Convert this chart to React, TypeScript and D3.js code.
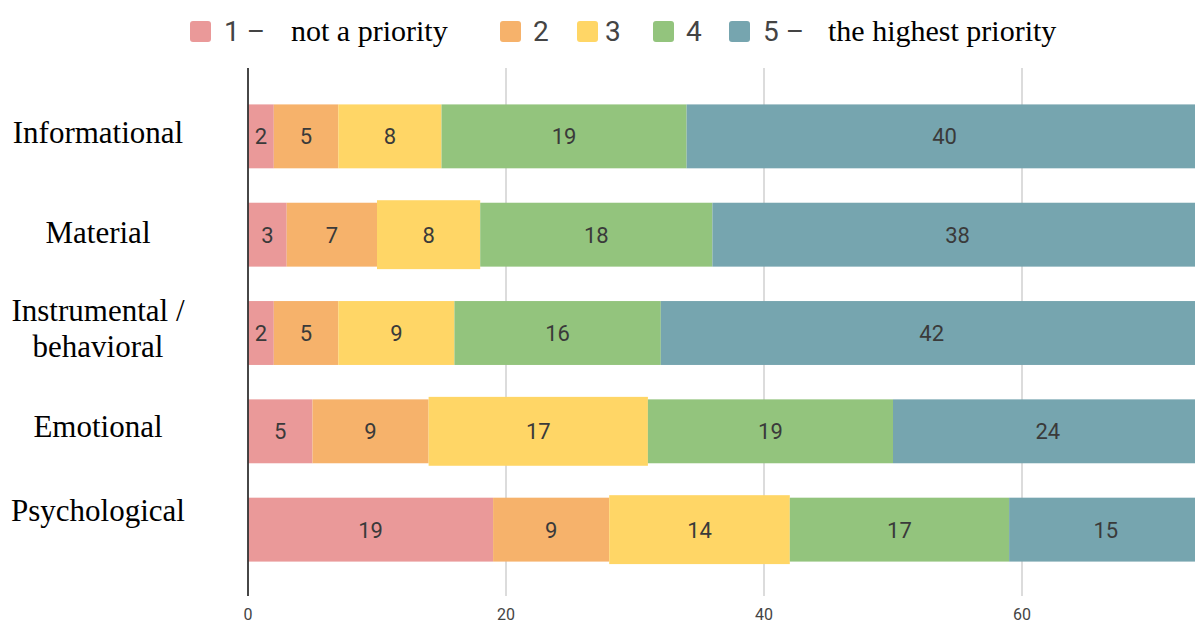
import React from "react";
import * as d3 from "d3";

const categories = ["Informational", "Material", "Instrumental / behavioral", "Emotional", "Psychological"];
const seriesKeys = ["1", "2", "3", "4", "5"];
const series1 = [2, 3, 2, 5, 19];
const series2 = [5, 7, 5, 9, 9];
const series3 = [8, 8, 9, 17, 14];
const series4 = [19, 18, 16, 19, 17];
const series5 = [40, 38, 42, 24, 15];
const xTicks = [0, 20, 40, 60];
const legendNumbers = ["1 –", "2", "3", "4", "5 –"];
const legendTexts = ["not a priority", "", "", "", "the highest priority"];

const colors = ["#EA9999", "#F6B26B", "#FFD666", "#93C47D", "#76A5AF"];

const W = 1195;
const H = 623;

export default function App() {
  const allSeries = [series1, series2, series3, series4, series5];
  const rows = categories.map((c, i) => {
    const r: any = { cat: c };
    seriesKeys.forEach((k, j) => (r[k] = allSeries[j][i]));
    return r;
  });
  const stacked = d3.stack().keys(seriesKeys)(rows);

  const x = d3.scaleLinear().domain([0, 74]).range([248, 248 + 74 * 12.9]);
  const y = d3.scaleBand().domain(categories).range([70, 596]).paddingInner(0.35).paddingOuter(0.35);
  const bw = y.bandwidth();

  // highlighted (slightly enlarged) yellow segments in the original
  const enlarged = new Set(["3|Material", "3|Emotional", "3|Psychological"]);

  const labelLines: string[][] = [["Informational"], ["Material"], ["Instrumental /", "behavioral"], ["Emotional"], ["Psychological"]];
  const labelDy: number[][] = [[6.5], [8.2], [-12.1, 23.9], [5.6], [-8.7]];

  const legendX = [
    { sq: 190, num: 224, txt: 291 },
    { sq: 500, num: 533, txt: 0 },
    { sq: 577, num: 605, txt: 0 },
    { sq: 653, num: 686, txt: 0 },
    { sq: 729, num: 763, txt: 828 },
  ];

  return (
    <svg width={W} height={H} style={{ position: "absolute", left: 0, top: 0, background: "#fff" }}>
      <rect width={W} height={H} fill="#fff" />
      {/* gridlines */}
      {xTicks.filter((t) => t !== 0).map((t) => (
        <line key={t} x1={x(t)} x2={x(t)} y1={68} y2={596} stroke="#d0d0d0" strokeWidth={1.5} />
      ))}
      {/* bars */}
      {stacked.map((s, si) => (
        <g key={s.key} fill={colors[si]}>
          {s.map((d, i) => {
            const cat = categories[i];
            const big = enlarged.has(s.key + "|" + cat);
            const ext = big ? 2.5 : 0;
            return (
              <rect
                key={cat}
                x={x(d[0])}
                y={(y(cat) as number) - ext}
                width={x(d[1]) - x(d[0])}
                height={bw + 2 * ext}
              />
            );
          })}
        </g>
      ))}
      {/* value labels */}
      {stacked.map((s) => (
        <g key={"l" + s.key}>
          {s.map((d, i) => {
            const cat = categories[i];
            const v = d[1] - d[0];
            return (
              <text
                key={cat}
                x={(x(d[0]) + x(d[1])) / 2}
                y={(y(cat) as number) + bw / 2}
                dy="0.36em"
                textAnchor="middle"
                fontFamily="Roboto, 'Open Sans', sans-serif"
                fontSize={22}
                fill="#3a3a3a"
              >
                {v}
              </text>
            );
          })}
        </g>
      ))}
      {/* axis line */}
      <line x1={x(0)} x2={x(0)} y1={68} y2={596} stroke="#333" strokeWidth={1.8} />
      {/* tick labels */}
      {xTicks.map((t) => (
        <text key={"t" + t} x={x(t)} y={620} textAnchor="middle" fontFamily="Roboto, sans-serif" fontSize={16} fill="#444">
          {t}
        </text>
      ))}
      {/* category labels */}
      {categories.map((c, i) => (
        <text key={"c" + c} x={98} textAnchor="middle" fontFamily="'Liberation Serif', 'Times New Roman', serif" fontSize={31} fill="#000">
          {labelLines[i].map((ln, k) => (
            <tspan key={k} x={98} y={(y(c) as number) + bw / 2 + labelDy[i][k]}>
              {ln}
            </tspan>
          ))}
        </text>
      ))}
      {/* legend */}
      {seriesKeys.map((k, i) => (
        <g key={"lg" + k}>
          <rect x={legendX[i].sq} y={21} width={21} height={21} rx={3} fill={colors[i]} />
          <text x={legendX[i].num} y={41} fontFamily="Roboto, sans-serif" fontSize={28} fill="#444">
            {legendNumbers[i]}
          </text>
          {legendTexts[i] && (
            <text x={legendX[i].txt} y={41} fontFamily="'Liberation Serif', 'Times New Roman', serif" fontSize={30} fill="#000">
              {legendTexts[i]}
            </text>
          )}
        </g>
      ))}
    </svg>
  );
}
